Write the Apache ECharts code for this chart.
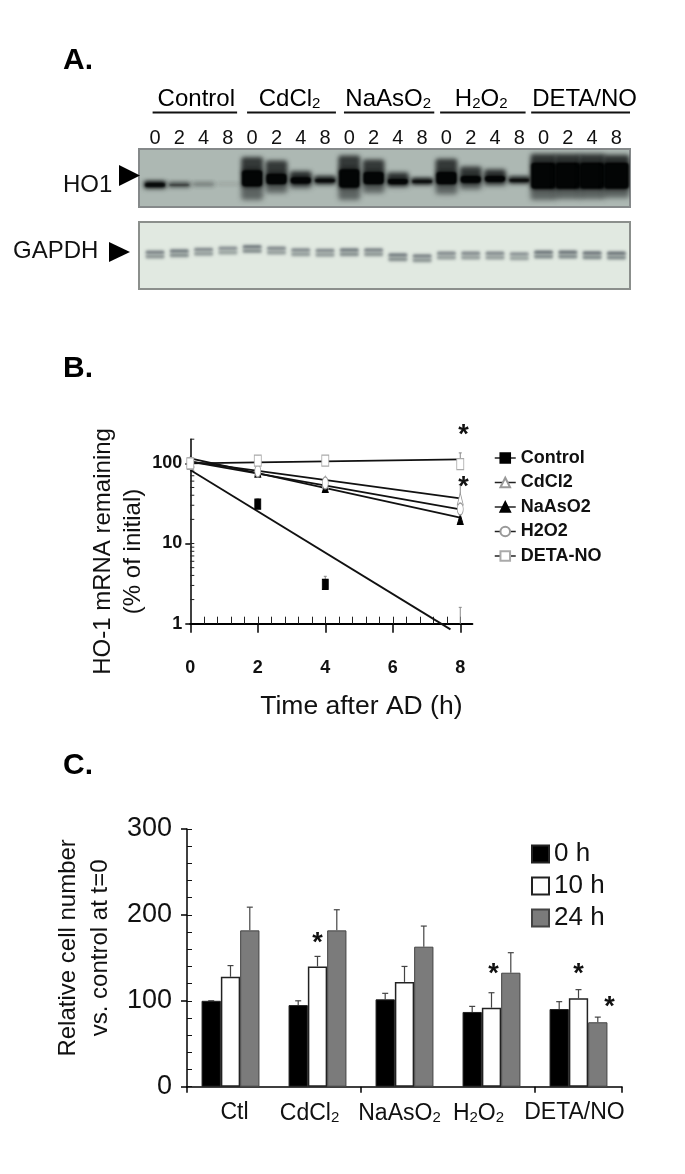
<!DOCTYPE html>
<html><head><meta charset="utf-8">
<style>html,body{margin:0;padding:0;background:#fff}#c{width:685px;height:1174px}</style>
<script src="https://cdn.jsdelivr.net/npm/echarts@6/dist/echarts.min.js"></script>
</head><body><div id="c"></div>
<script>
const SANS='"Liberation Sans",Arial,sans-serif';
// Panel A
const laneTimes=['0','2','4','8','0','2','4','8','0','2','4','8','0','2','4','8','0','2','4','8'];
const groupNames=['Control','CdCl2','NaAsO2','H2O2','DETA/NO'];
const groupStart=[-0.1,3.79,7.78,11.74,15.49];
const groupEnd=[3.38,7.45,11.5,15.26,19.56];
const groupCenter=[1.7,5.54,9.6,13.43,17.69];
const hoCoreTop=[57,59,59,59,35,41,47,50,33,38,50,52,38,45,45,50,22,22,22,22];
const hoCoreBottom=[67,65,63,62,66,62,61,59,68,62,62,60,62,60,58,58,70,70,70,70];
const hoHaloTop=[55,57,57,57,14,20,38,46,11,18,40,50,17,30,35,47,8,8,8,10];
const hoHaloBottom=[68,66,64,63,88,76,68,62,88,76,66,62,78,70,64,60,88,86,86,84];
const hoDark=[.9,.5,.25,.06,1,1,1,.9,1,1,1,.9,1,1,1,.85,1,1,1,1];
const gapdhCenter=[47.8,45.8,43.8,41.9,39.4,41.9,44.3,45.3,44.3,44.3,51.7,53.2,49.3,49.3,49.3,50.3,47.8,47.8,48.8,49.3];
const gapdhDark=[.65,.7,.6,.55,.7,.6,.6,.6,.7,.65,.7,.65,.6,.6,.6,.55,.75,.75,.75,.75];
// Panel B
const timeH=[0,2,4,8];
const controlVals=[100,31,3.1,null];
const cdcl2Vals=[100,85,58,36];
const naasVals=[105,78,50,20];
const h2o2Vals=[100,80,57,27];
const detaVals=[100,108,108,98];
const fitControl=[[0,82.5],[7.71,0.85]];
const fitCdcl2=[[0,105],[8,36.5]];
const fitNaas=[[0,115],[8,21]];
const fitH2o2=[[0,105],[8,26.7]];
const fitDeta=[[0,100],[8,112]];
const errB=[[2,30,36],[4,3.1,3.9],[8,1,1.6],[8,36,54],[4,50,56],[8,98,135],[2,108,125],[4,108,122]];
const starsB=[[8.1,248],[8.1,56]];
const xMinorB=[0.4,0.8,1.2,1.6,2,2.4,2.8,3.2,3.6,4,4.4,4.8,5.2,5.6,6,6.4,6.8,7.2,7.6,8];
const yMinorB=[2,3,4,5,6,7,8,9,10,20,30,40,50,60,70,80,90,100,200];
// Panel C
const catC=['Ctl','CdCl2','NaAsO2','H2O2','DETA/NO'];
const shiftC=[4,-8,-5,-13,-4];
const h0=[100,95,101.7,87,90.4];
const h10=[128,140,122,92,103];
const h24=[182,182,163,132.7,75];
const h0Top=[100,100,108.7,93.5,99];
const h10Top=[141,151.7,140,109.4,113];
const h24Top=[209,206,187,156,81];
const starsC=[[1,0,172.7],[3,0.1,136],[4,0,136],[4,1.6,98]];

const BAR_W=19.3;
const subRich={t:{fontSize:24,fontFamily:SANS,color:'#111'},s:{fontSize:15,fontFamily:SANS,color:'#111',padding:[10,0,0,0]}};
function subFmt(n){return n.replace(/^(.*?)2(.*?)(2?)$/,(m,a,b,c)=>{
  if(c) return `{t|${a}}{s|2}{t|${b}}{s|2}`; return `{t|${a}}{s|2}${b?`{t|${b}}`:''}`;});}
function groupText(n){return n.indexOf('2')>=0?subFmt(n):`{t|${n}}`;}
function blur(x,y,w,h,r,color,b){ // draws only the blurred shadow of an off-canvas rect
  return {type:'rect',shape:{x:x-3000,y:y,width:w,height:h,r:r},
    style:{fill:'#000',shadowBlur:b,shadowColor:color,shadowOffsetX:3000}};
}

const option={
 animation:false,backgroundColor:'#fff',textStyle:{fontFamily:SANS},
 grid:[
  {left:139,top:149,width:491,height:58,show:true,backgroundColor:'#adb8b3',borderColor:'#85898a',borderWidth:2},
  {left:139,top:222,width:491,height:67,show:true,backgroundColor:'#e1e9e1',borderColor:'#8b8f8c',borderWidth:2},
  {left:190.3,top:439.2,width:282.1,height:184.5},
  {left:187,top:829,width:435,height:257.7}
 ],
 xAxis:[
  {gridIndex:0,type:'value',min:-0.66,max:19.56,position:'top',axisLine:{show:false},axisTick:{show:false},splitLine:{show:false},
   axisLabel:{customValues:laneTimes.map((_,i)=>i),formatter:v=>laneTimes[v],fontSize:20,color:'#111',margin:1,fontFamily:SANS}},
  {gridIndex:1,type:'value',min:-0.66,max:19.56,show:false},
  {gridIndex:2,type:'value',position:'bottom',min:0,max:8.36,splitLine:{show:false},
   axisLine:{onZero:false,lineStyle:{color:'#000',width:2}},
   axisTick:{length:9,customValues:[0,2,4,6,8],lineStyle:{color:'#000',width:1.5}},
   axisLabel:{customValues:[0,2,4,6,8],fontWeight:'bold',fontSize:18,color:'#111',margin:35},
   name:'Time after AD (h)',nameLocation:'middle',nameGap:69,nameTextStyle:{fontSize:26.5,color:'#111',padding:[0,0,0,60]}},
  {gridIndex:2,type:'value',position:'bottom',min:0,max:8.36,splitLine:{show:false},axisLine:{show:false},axisLabel:{show:false},
   axisTick:{inside:true,length:7,customValues:xMinorB,lineStyle:{color:'#222',width:1}}},
  {gridIndex:3,type:'category',data:catC,splitLine:{show:false},
   axisLine:{lineStyle:{color:'#000',width:1.5}},
   axisTick:{show:true,interval:1,length:6,lineStyle:{color:'#000',width:1.5}},
   axisLabel:{interval:0,margin:14,color:'#111',
    formatter:(v,i)=>{const s=shiftC[i];const body=v.indexOf('2')>=0?v.replace(/2/g,'{s|2}').replace(/(^|\})([^{}]+)(?=\{|$)/g,'$1{t|$2}').replace(/\{t\|(s\|2)\}/g,'{$1}'):`{t|${v}}`;
      return (s>0?`{p${i}| }`:'')+body+(s<0?`{p${i}| }`:'');},
    rich:Object.assign({t:{fontSize:23,fontFamily:SANS,color:'#111'},s:{fontSize:15,fontFamily:SANS,color:'#111',padding:[10,0,0,0]}},
      Object.fromEntries(shiftC.map((s,i)=>['p'+i,{width:Math.abs(s)*2,fontSize:10}])))}}
 ],
 yAxis:[
  {gridIndex:0,type:'value',min:0,max:100,inverse:true,show:false},
  {gridIndex:1,type:'value',min:0,max:100,inverse:true,show:false},
  {gridIndex:2,type:'log',position:'left',logBase:10,min:1,max:200,splitLine:{show:false},
   axisLine:{lineStyle:{color:'#000',width:1.5}},
   axisTick:{length:5,customValues:[1,10,100],lineStyle:{color:'#000',width:1.5}},
   axisLabel:{customValues:[1,10,100],fontWeight:'bold',fontSize:18,color:'#111',margin:8},
   name:'HO-1 mRNA remaining\n(% of initial)',nameLocation:'middle',nameGap:42,
   nameTextStyle:{fontSize:24,lineHeight:30,color:'#111',align:'center',padding:[0,40,0,0]}},
  {gridIndex:3,type:'value',position:'left',min:0,max:300,interval:100,splitLine:{show:false},
   axisLine:{show:true,lineStyle:{color:'#000',width:1.5}},
   axisTick:{show:true,length:6,lineStyle:{color:'#000',width:1.5}},
   axisLabel:{fontSize:27,color:'#111',margin:15},
   name:'Relative cell number\nvs. control at t=0',nameLocation:'middle',nameGap:48,
   nameTextStyle:{fontSize:24,lineHeight:32,color:'#111',padding:[0,0,0,20]}},
  {gridIndex:3,type:'value',position:'left',min:0,max:300,interval:20,splitLine:{show:false},axisLine:{show:false},axisLabel:{show:false},
   axisTick:{show:true,inside:true,length:5,lineStyle:{color:'#111',width:1}}}
 ],
 legend:[
  {left:494,top:449,padding:0,orient:'vertical',itemWidth:21,itemHeight:12,itemGap:6.5,
   data:['Control','CdCl2','NaAsO2','H2O2','DETA-NO'],
   textStyle:{fontSize:18,fontWeight:'bold',color:'#111',fontFamily:SANS},
   lineStyle:{color:'#222',width:1.5,opacity:1}},
  {left:531,top:841,padding:0,orient:'vertical',itemWidth:17,itemHeight:17,itemGap:6,icon:'rect',
   data:['0 h','10 h','24 h'],textStyle:{fontSize:26,color:'#111',fontFamily:SANS}}
 ],
 graphic:[
  {type:'text',left:63,top:46,style:{text:'A.',font:'bold 30px "Liberation Sans"',fill:'#000'}},
  {type:'text',left:63,top:354,style:{text:'B.',font:'bold 30px "Liberation Sans"',fill:'#000'}},
  {type:'text',left:63,top:751,style:{text:'C.',font:'bold 30px "Liberation Sans"',fill:'#000'}},
  {type:'text',left:63,top:173,style:{text:'HO1',font:'24px "Liberation Sans"',fill:'#111'}},
  {type:'text',left:13,top:239,style:{text:'GAPDH',font:'24px "Liberation Sans"',fill:'#111'}},
  {type:'polygon',shape:{points:[[119,165],[140,175.5],[119,186]]},style:{fill:'#000'}},
  {type:'polygon',shape:{points:[[109,242],[130,252],[109,262]]},style:{fill:'#000'}}
 ],
 series:[
  // Blot bands
  {type:'custom',name:'HO1 blot',xAxisIndex:0,yAxisIndex:0,silent:true,
   data:laneTimes.map((_,i)=>[i,hoCoreTop[i],hoCoreBottom[i],hoHaloTop[i],hoHaloBottom[i],hoDark[i]]),
   encode:{x:0,y:[1,2]},
   renderItem(p,api){
    const x=api.coord([api.value(0),0])[0];
    const yc=api.coord([0,api.value(1)])[1],yb=api.coord([0,api.value(2)])[1];
    const ht=api.coord([0,api.value(3)])[1],hb=api.coord([0,api.value(4)])[1];
    const huge=yb-yc>22, w=api.size([1,0])[0]*(huge?1.08:0.9);
    const d=api.value(5), l=x-w/2;
    return {type:'group',children:[
     blur(l,ht,w,yc-ht+2,3,`rgba(30,34,34,${0.85*d})`,4),
     blur(l,yb-2,w,hb-yb+2,3,`rgba(50,55,55,${0.65*d})`,5),
     blur(l,yc,w,yb-yc,3,`rgba(3,5,5,${d})`,4),
     blur(l+1,yc+1,w-2,yb-yc-2,3,`rgba(3,5,5,${d})`,2)
    ]};
   },
   clip:true},
  {type:'custom',name:'GAPDH blot',xAxisIndex:1,yAxisIndex:1,silent:true,
   data:laneTimes.map((_,i)=>[i,gapdhCenter[i],gapdhDark[i]]),encode:{x:0,y:1},
   renderItem(p,api){
    const c=api.coord([api.value(0),api.value(1)]),w=api.size([1,0])[0]*0.78,d=api.value(2);
    return {type:'group',children:[
     blur(c[0]-w/2,c[1]-3.5,w,3.5,1.5,`rgba(60,68,78,${d})`,3),
     blur(c[0]-w/2,c[1]+0.5,w,4,1.5,`rgba(95,105,108,${d})`,3)
    ]};
   }},
  {type:'custom',name:'Blot groups',xAxisIndex:0,yAxisIndex:0,silent:true,
   data:groupNames.map((_,i)=>[groupStart[i],groupEnd[i],groupCenter[i],i]),encode:{x:[0,1]},clip:false,
   renderItem(p,api){
    const top=p.coordSys.y;
    const a=api.coord([api.value(0),0])[0],b=api.coord([api.value(1),0])[0],c=api.coord([api.value(2),0])[0];
    return {type:'group',children:[
     {type:'line',shape:{x1:a,y1:top-36.5,x2:b,y2:top-36.5},style:{stroke:'#111',lineWidth:1.8}},
     {type:'text',x:c,y:top-50,style:{text:groupText(groupNames[api.value(3)]),rich:subRich,align:'center',verticalAlign:'middle'}}
    ]};
   }},
  // Panel B inner log ticks
  {type:'custom',name:'B log ticks',xAxisIndex:2,yAxisIndex:2,silent:true,clip:false,z:2,
   data:yMinorB.map(v=>[0,v]),encode:{x:0,y:1},
   renderItem(p,api){const c=api.coord([api.value(0),api.value(1)]);
    return {type:'line',shape:{x1:c[0],y1:c[1],x2:c[0]+4,y2:c[1]},style:{stroke:'#222',lineWidth:1}};}},
  // Panel B fits
  ...[['Control fit',fitControl],['CdCl2 fit',fitCdcl2],['NaAsO2 fit',fitNaas],['H2O2 fit',fitH2o2],['DETA-NO fit',fitDeta]].map(([n,d])=>({
   type:'line',name:n,xAxisIndex:2,yAxisIndex:2,data:d,symbol:'none',clip:false,z:3,lineStyle:{color:'#111',width:1.8}})),
  // Panel B errors
  {type:'custom',name:'B errors',xAxisIndex:2,yAxisIndex:2,data:errB,encode:{x:0,y:[1,2]},clip:false,z:2,
   renderItem(p,api){
    const a=api.coord([api.value(0),api.value(1)]),b=api.coord([api.value(0),api.value(2)]);
    return {type:'group',children:[
     {type:'line',shape:{x1:a[0],y1:a[1],x2:b[0],y2:b[1]},style:{stroke:'#888',lineWidth:1}},
     {type:'line',shape:{x1:a[0]-1.5,y1:b[1],x2:a[0]+1.5,y2:b[1]},style:{stroke:'#888',lineWidth:1}}
    ]};
   }},
  // Panel B markers
  ...[['Control',controlVals,'rect',[6,10],'#000','#000'],
      ['CdCl2',cdcl2Vals,'triangle',[6,12],'#fff','#999'],
      ['NaAsO2',naasVals,'triangle',[6,10],'#000','#000'],
      ['H2O2',h2o2Vals,'circle',[6,12],'#fff','#999'],
      ['DETA-NO',detaVals,'rect',[7,11],'#fff','#aaa']].map(([n,v,sym,size,fill,stroke],k)=>({
   type:'line',name:n,xAxisIndex:2,yAxisIndex:2,data:timeH.map((t,i)=>[t,v[i]]),symbol:sym,symbolSize:size,showSymbol:true,clip:false,z:4+k,
   connectNulls:false,lineStyle:{opacity:0,width:0},itemStyle:{color:fill,borderColor:stroke,borderWidth:1}})),
  {type:'custom',name:'B stars',xAxisIndex:2,yAxisIndex:2,data:starsB,encode:{x:0,y:1},clip:false,z:9,
   renderItem(p,api){const c=api.coord([api.value(0),api.value(1)]);
    return {type:'text',x:c[0],y:c[1]+4,style:{text:'*',font:'bold 27px "Liberation Sans"',fill:'#111',align:'center',verticalAlign:'middle'}};}},
  // Panel C bars
  {type:'bar',name:'0 h',xAxisIndex:4,yAxisIndex:3,data:h0,barWidth:BAR_W,barGap:0,itemStyle:{color:'#000',borderColor:'#222',borderWidth:1}},
  {type:'bar',name:'10 h',xAxisIndex:4,yAxisIndex:3,data:h10,barWidth:BAR_W,barGap:0,itemStyle:{color:'#fff',borderColor:'#222',borderWidth:1.5}},
  {type:'bar',name:'24 h',xAxisIndex:4,yAxisIndex:3,data:h24,barWidth:BAR_W,barGap:0,itemStyle:{color:'#7b7b7b',borderColor:'#444',borderWidth:1}},
  // Panel C errors
  {type:'custom',name:'C errors',xAxisIndex:4,yAxisIndex:3,z:1,
   data:[h0,h10,h24].flatMap((v,s)=>v.map((val,i)=>[i,s-1,val,[h0Top,h10Top,h24Top][s][i]])),encode:{x:0,y:3},
   renderItem(p,api){
    const x=api.coord([api.value(0),0])[0]+api.value(1)*BAR_W;
    const a=api.coord([api.value(0),api.value(2)])[1],b=api.coord([api.value(0),api.value(3)])[1];
    return {type:'group',children:[
     {type:'line',shape:{x1:x,y1:a,x2:x,y2:b},style:{stroke:'#444',lineWidth:1.2}},
     {type:'line',shape:{x1:x-3,y1:b,x2:x+3,y2:b},style:{stroke:'#444',lineWidth:1.2}}
    ]};
   }},
  {type:'custom',name:'C stars',xAxisIndex:4,yAxisIndex:3,data:starsC,encode:{x:0,y:2},z:9,clip:false,
   renderItem(p,api){
    const c=api.coord([api.value(0),api.value(2)]);
    return {type:'text',x:c[0]+api.value(1)*BAR_W,y:c[1]+5,style:{text:'*',font:'bold 27px "Liberation Sans"',fill:'#111',align:'center',verticalAlign:'middle'}};}}
 ]
};
const chart=echarts.init(document.getElementById('c'),null,{renderer:'canvas'});
chart.setOption(option);
</script></body></html>
